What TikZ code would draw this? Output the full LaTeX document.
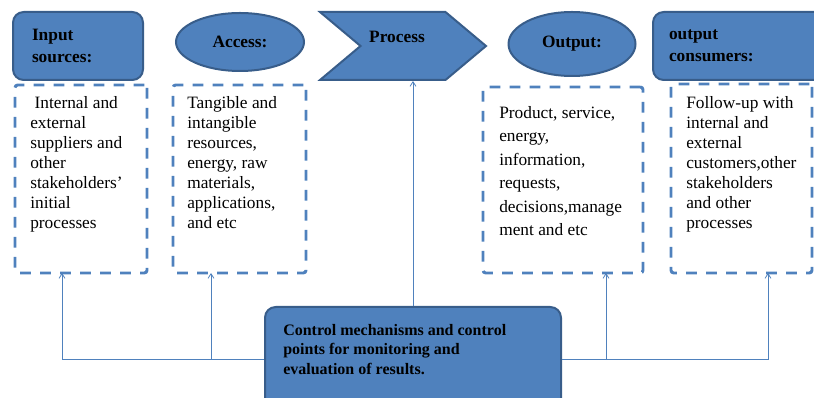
\documentclass[tikz,border=0pt]{standalone}
\usepackage{fontspec}
\setmainfont{Liberation Serif}
\usetikzlibrary{shapes.geometric,shapes.symbols,arrows.meta}

\definecolor{boxblue}{RGB}{79,129,189}
\definecolor{edgeblue}{RGB}{56,93,138}

\tikzset{
  head/.style={draw=edgeblue, fill=boxblue, line width=1.5pt, font=\bfseries\fontsize{13}{16.5}\selectfont, align=left},
  hbox/.style={head, rectangle, rounded corners=8pt, minimum height=51pt},
  hell/.style={head, ellipse, inner sep=0pt},
  dbox/.style={draw=boxblue, line width=2.2pt, dash pattern=on 8pt off 7pt, rounded corners=2pt, minimum height=141pt},
  btext/.style={anchor=north west, align=left, inner sep=0pt, font=\fontsize{13}{15}\selectfont},
  conn/.style={draw=boxblue, line width=0.6pt, -{Straight Barb[length=3.5pt,width=4.5pt]}},
}

\begin{document}
\begin{tikzpicture}[x=0.75pt,y=-0.75pt]
\useasboundingbox (0,0) rectangle (814,398);
\clip (0,0) rectangle (814,398);

% top row
\node[hbox, minimum width=97.5pt, text width=69pt, inner xsep=14.25pt] (insrc) at (78,46) {Input\\sources:};
\node[hell, minimum width=96pt, minimum height=43.5pt] (access) at (240,42) {Access:};
\node[head, signal, signal to=east, signal from=west, signal pointer angle=80,
      minimum width=124.5pt, minimum height=51pt] (proc) at (403,46) {};
\node[font=\bfseries\fontsize{13}{16.5}\selectfont] (proctxt) at (397,37) {Process};
\node[hell, minimum width=95.25pt, minimum height=48pt] (output) at (572,44) {Output:};
\node[hbox, minimum width=132.75pt, text width=108.75pt, inner xsep=12pt] (outcons) at (741.5,46) {output\\consumers:};

% dashed boxes
\node[dbox, minimum width=99pt] (inbox) at (81,179) {};
\node[dbox, minimum width=99.75pt] (accbox) at (239.5,179) {};
\node[dbox, minimum width=120pt, minimum height=139.5pt] (outbox) at (563,180) {};
\node[dbox, minimum width=105.75pt, minimum height=141.75pt] (consbox) at (741.5,178.5) {};

\node[btext] (intxt) at (30,96) {\ Internal and\\external\\suppliers and\\other\\stakeholders'\\initial\\processes};
\node[btext] (acctxt) at (187,96) {Tangible and\\intangible\\resources,\\energy, raw\\materials,\\applications,\\and etc};
\node[btext, font=\fontsize{13}{17.6}\selectfont] (outtxt) at (499,106) {Product, service,\\energy,\\information,\\requests,\\decisions,manage\\ment and etc};
\node[btext] (constxt) at (686,96) {Follow-up with\\internal and\\external\\customers,other\\stakeholders\\and other\\processes};

% control box
\node[hbox, minimum width=222pt, minimum height=78pt] (ctrl) at (413,359) {};
\node[btext, font=\bfseries\fontsize{12}{14.5}\selectfont] (ctrltxt) at (283,324) {Control mechanisms and control\\points for monitoring and\\evaluation of results.};

% connectors
\coordinate (a1) at (62,273);
\coordinate (a2) at (211,273);
\coordinate (a3) at (606,273);
\coordinate (a4) at (768,273);
\draw[conn] (ctrl.west) -| (a1);
\draw[conn] (ctrl.west -| a2) -- (a2);
\draw[conn] (ctrl.east) -| (a4);
\draw[conn] (ctrl.east -| a3) -- (a3);
\draw[conn] (ctrl.north) -- (ctrl.north |- proc.south);
\end{tikzpicture}
\end{document}
